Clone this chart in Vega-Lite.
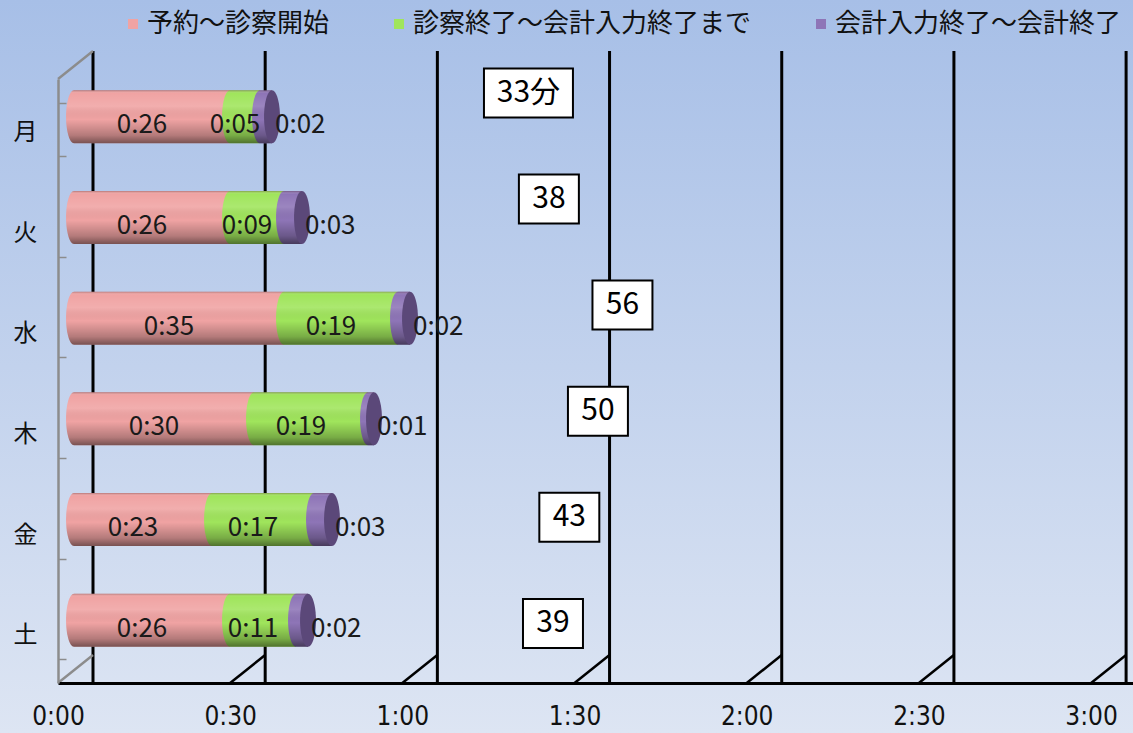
{
  "$schema": "https://vega.github.io/schema/vega-lite/v6.json",
  "width": 1075,
  "height": 604,
  "autosize": {"type": "none"},
  "padding": {"left": 58, "top": 79, "right": 0, "bottom": 50},
  "background": "#C5D3EC",
  "config": {"view": {"stroke": null}, "font": "Noto Sans CJK JP"},
  "datasets": {
    "segs": [
      {"day": "月", "series": "予約～診察開始", "idx": 1, "minutes": 26, "label": "0:26"},
      {"day": "月", "series": "診察終了～会計入力終了まで", "idx": 2, "minutes": 5, "label": "0:05"},
      {"day": "月", "series": "会計入力終了～会計終了", "idx": 3, "minutes": 2, "label": "0:02"},
      {"day": "火", "series": "予約～診察開始", "idx": 1, "minutes": 26, "label": "0:26"},
      {"day": "火", "series": "診察終了～会計入力終了まで", "idx": 2, "minutes": 9, "label": "0:09"},
      {"day": "火", "series": "会計入力終了～会計終了", "idx": 3, "minutes": 3, "label": "0:03"},
      {"day": "水", "series": "予約～診察開始", "idx": 1, "minutes": 35, "label": "0:35"},
      {"day": "水", "series": "診察終了～会計入力終了まで", "idx": 2, "minutes": 19, "label": "0:19"},
      {"day": "水", "series": "会計入力終了～会計終了", "idx": 3, "minutes": 2, "label": "0:02"},
      {"day": "木", "series": "予約～診察開始", "idx": 1, "minutes": 30, "label": "0:30"},
      {"day": "木", "series": "診察終了～会計入力終了まで", "idx": 2, "minutes": 19, "label": "0:19"},
      {"day": "木", "series": "会計入力終了～会計終了", "idx": 3, "minutes": 1, "label": "0:01"},
      {"day": "金", "series": "予約～診察開始", "idx": 1, "minutes": 23, "label": "0:23"},
      {"day": "金", "series": "診察終了～会計入力終了まで", "idx": 2, "minutes": 17, "label": "0:17"},
      {"day": "金", "series": "会計入力終了～会計終了", "idx": 3, "minutes": 3, "label": "0:03"},
      {"day": "土", "series": "予約～診察開始", "idx": 1, "minutes": 26, "label": "0:26"},
      {"day": "土", "series": "診察終了～会計入力終了まで", "idx": 2, "minutes": 11, "label": "0:11"},
      {"day": "土", "series": "会計入力終了～会計終了", "idx": 3, "minutes": 2, "label": "0:02"}
    ],
    "totals": [
      {"day": "月", "total": 33, "label": "33分"},
      {"day": "火", "total": 38, "label": "38"},
      {"day": "水", "total": 56, "label": "56"},
      {"day": "木", "total": 50, "label": "50"},
      {"day": "金", "total": 43, "label": "43"},
      {"day": "土", "total": 39, "label": "39"}
    ],
    "ticks": [{"v": 0}, {"v": 30}, {"v": 60}, {"v": 90}, {"v": 120}, {"v": 150}, {"v": 180}]
  },
  "layer": [
    {
      "data": {"values": [{}]},
      "mark": {
        "type": "rect",
        "xOffset": -58, "x2Offset": 0, "yOffset": -79, "y2Offset": 50,
        "fill": {"gradient": "linear", "x1": 0, "y1": 0, "x2": 0, "y2": 1,
          "stops": [{"offset": 0, "color": "#A7BFE7"}, {"offset": 1, "color": "#DDE5F3"}]}
      },
      "encoding": {"x": {"value": 0}, "x2": {"value": "width"}, "y": {"value": 0}, "y2": {"value": "height"}}
    },
    {
      "data": {"name": "ticks"},
      "layer": [
        {
          "mark": {"type": "rule", "xOffset": 35, "yOffset": -28, "y2Offset": -28, "strokeWidth": 3, "color": "black"},
          "encoding": {
            "x": {"field": "v", "type": "quantitative",
              "scale": {"domain": [0, 187.3], "nice": false, "zero": false},
              "axis": {
                "values": [0, 30, 60, 90, 120, 150, 180],
                "labelExpr": "floor(datum.value/60) + ':' + (datum.value % 60 < 10 ? '0' : '') + (datum.value % 60)",
                "ticks": false, "grid": false, "title": null, "zindex": 2,
                "domainColor": "black", "domainWidth": 3,
                "labelFont": "Liberation Sans Narrow, DejaVu Sans Condensed, sans-serif",
                "labelFontSize": 26, "labelColor": "#111", "labelPadding": 20,
                "labelFlush": false, "labelOverlap": false
              }}
          }
        },
        {
          "mark": {"type": "rule", "x2Offset": 35, "y2Offset": -28, "strokeWidth": 2.5},
          "encoding": {
            "x": {"field": "v", "type": "quantitative", "scale": {"domain": [0, 187.3], "nice": false, "zero": false}},
            "x2": {"field": "v"},
            "y": {"value": "height"},
            "y2": {"value": "height"},
            "color": {"condition": {"test": "datum.v === 0", "value": "#8c8c8c"}, "value": "black"}
          }
        },
        {
          "data": {"values": [{"v": 0}]},
          "mark": {"type": "rule", "x2Offset": 35, "y2Offset": -28, "strokeWidth": 2.5, "color": "#8c8c8c"},
          "encoding": {
            "x": {"field": "v", "type": "quantitative", "scale": {"domain": [0, 187.3], "nice": false, "zero": false}},
            "x2": {"field": "v"},
            "y": {"value": 0},
            "y2": {"value": 0}
          }
        }
      ]
    },
    {
      "data": {"name": "segs"},
      "encoding": {
        "y": {"field": "day", "type": "nominal", "sort": ["月", "火", "水", "木", "金", "土"],
          "scale": {"paddingInner": 0.4735, "paddingOuter": 0.23675},
          "axis": {
            "title": null, "zindex": 2, "domainColor": "#8c8c8c", "domainWidth": 2.5,
            "ticks": true, "tickBand": "extent", "tickColor": "#8c8c8c", "tickSize": -8, "tickWidth": 1.5,
            "labelFont": "Noto Sans CJK JP", "labelFontSize": 24, "labelColor": "#111",
            "labelPadding": 29, "labelOffset": 3, "labelBaseline": "middle"
          }}
      },
      "layer": [
        {
          "mark": {"type": "bar", "yOffset": -12.5, "y2Offset": -12.5},
          "encoding": {
            "x": {"field": "minutes", "type": "quantitative", "stack": "zero",
              "scale": {"domain": [-2.667, 176.5], "nice": false, "zero": false}, "axis": null},
            "color": {"field": "series", "type": "nominal",
              "scale": {"domain": ["予約～診察開始", "診察終了～会計入力終了まで", "会計入力終了～会計終了"],
                "range": ["#F0A3A3", "#A0E55C", "#8E75B7"]},
              "legend": {
                "orient": "none", "legendX": 62, "legendY": -68, "direction": "horizontal",
                "title": null, "symbolType": "square", "symbolSize": 100, "symbolStrokeWidth": 0,
                "labelFont": "Noto Sans CJK JP", "labelFontSize": 26, "labelColor": "#111",
                "labelOffset": 1, "columnPadding": 56, "padding": 0, "labelLimit": 500
              }},
            "order": {"field": "idx"}
          }
        },
        {
          "mark": {"type": "point", "shape": "M0,-1A0.3,1 0 0,0 0,1Z", "size": 2809, "filled": true, "opacity": 1, "strokeWidth": 0, "yOffset": -12.5},
          "encoding": {
            "x": {"field": "minutes", "type": "quantitative", "stack": "zero", "bandPosition": 0,
              "scale": {"domain": [-2.667, 176.5], "nice": false, "zero": false}, "axis": null},
            "detail": {"field": "series"},
            "order": {"field": "idx"},
            "color": {"condition": [
              {"test": "datum.idx === 1", "value": "#F0A3A3"},
              {"test": "datum.idx === 2", "value": "#A0E55C"}], "value": "#8E75B7"}
          }
        },
        {
          "data": {"name": "totals"},
          "mark": {"type": "bar", "yOffset": -12.5, "y2Offset": -12.5,
            "fill": {"gradient": "linear", "x1": 0, "y1": 0, "x2": 0, "y2": 1,
              "stops": [
                {"offset": 0, "color": "rgba(70,30,30,0.35)"},
                {"offset": 0.06, "color": "rgba(255,255,255,0.0)"},
                {"offset": 0.3, "color": "rgba(255,255,255,0.12)"},
                {"offset": 0.55, "color": "rgba(0,0,0,0.0)"},
                {"offset": 0.85, "color": "rgba(0,0,0,0.25)"},
                {"offset": 1, "color": "rgba(0,0,0,0.5)"}]}},
          "encoding": {
            "x": {"field": "total", "type": "quantitative", "scale": {"domain": [-2.667, 176.5], "nice": false, "zero": false}, "axis": null}
          }
        },
        {
          "mark": {"type": "point", "shape": "M0,-1A0.3,1 0 0,0 0,1Z", "size": 2809, "filled": true, "strokeWidth": 0, "yOffset": -12.5,
            "fill": {"gradient": "linear", "x1": 0, "y1": 0, "x2": 0, "y2": 1,
              "stops": [
                {"offset": 0, "color": "rgba(70,30,30,0.35)"},
                {"offset": 0.06, "color": "rgba(255,255,255,0.0)"},
                {"offset": 0.3, "color": "rgba(255,255,255,0.12)"},
                {"offset": 0.55, "color": "rgba(0,0,0,0.0)"},
                {"offset": 0.85, "color": "rgba(0,0,0,0.25)"},
                {"offset": 1, "color": "rgba(0,0,0,0.5)"}]}},
          "encoding": {
            "x": {"field": "minutes", "type": "quantitative", "stack": "zero", "bandPosition": 0,
              "scale": {"domain": [-2.667, 176.5], "nice": false, "zero": false}, "axis": null},
            "detail": {"field": "series"},
            "order": {"field": "idx"},
            "opacity": {"condition": {"test": "datum.idx === 1", "value": 1}, "value": 0}
          }
        },
        {
          "data": {"name": "totals"},
          "mark": {"type": "point", "shape": "M0,-1A0.3,1 0 1,0 0,1A0.3,1 0 1,0 0,-1Z", "size": 2809, "filled": true, "opacity": 1, "strokeWidth": 0, "yOffset": -12.5, "fill": "#5B4879"},
          "encoding": {
            "x": {"field": "total", "type": "quantitative", "scale": {"domain": [-2.667, 176.5], "nice": false, "zero": false}, "axis": null}
          }
        },
        {
          "mark": {"type": "text", "font": "Noto Sans CJK JP", "fontSize": 26, "color": "#1a1a1a", "align": "center", "baseline": "alphabetic", "dx": -10, "dy": 4},
          "encoding": {
            "x": {"field": "minutes", "type": "quantitative", "stack": "zero", "bandPosition": 0.5,
              "scale": {"domain": [-2.667, 176.5], "nice": false, "zero": false}, "axis": null},
            "detail": {"field": "series"},
            "order": {"field": "idx"},
            "text": {"condition": {"test": "datum.idx === 3", "value": ""}, "field": "label"}
          }
        },
        {
          "mark": {"type": "text", "font": "Noto Sans CJK JP", "fontSize": 26, "color": "#1a1a1a", "align": "left", "baseline": "alphabetic", "dx": 3, "dy": 4},
          "encoding": {
            "x": {"field": "minutes", "type": "quantitative", "stack": "zero",
              "scale": {"domain": [-2.667, 176.5], "nice": false, "zero": false}, "axis": null},
            "detail": {"field": "series"},
            "order": {"field": "idx"},
            "text": {"condition": {"test": "datum.idx !== 3", "value": ""}, "field": "label"}
          }
        }
      ]
    },
    {
      "data": {"name": "totals"},
      "encoding": {
        "y": {"field": "day", "type": "ordinal", "sort": ["月", "火", "水", "木", "金", "土"],
          "scale": {"type": "point", "range": [13.9, 544.4], "padding": 0}, "axis": null},
        "x": {"field": "total", "type": "quantitative",
          "scale": {"domain": [-82.11, 180.92], "nice": false, "zero": false}, "axis": null}
      },
      "layer": [
        {
          "mark": {"type": "point", "filled": true, "fill": "white", "stroke": "black", "strokeWidth": 2, "size": 2401, "opacity": 1},
          "encoding": {
            "shape": {"condition": {"test": "datum.day === '月'", "value": "M-1.816,-1H1.816V1H-1.816Z"}, "value": "M-1.224,-1H1.224V1H-1.224Z"}
          }
        },
        {
          "mark": {"type": "text", "font": "Noto Sans CJK JP", "fontSize": 30, "color": "black", "align": "center", "baseline": "middle"},
          "encoding": {"text": {"field": "label"}}
        }
      ]
    }
  ],
  "resolve": {"scale": {"x": "independent", "y": "independent"}}
}
